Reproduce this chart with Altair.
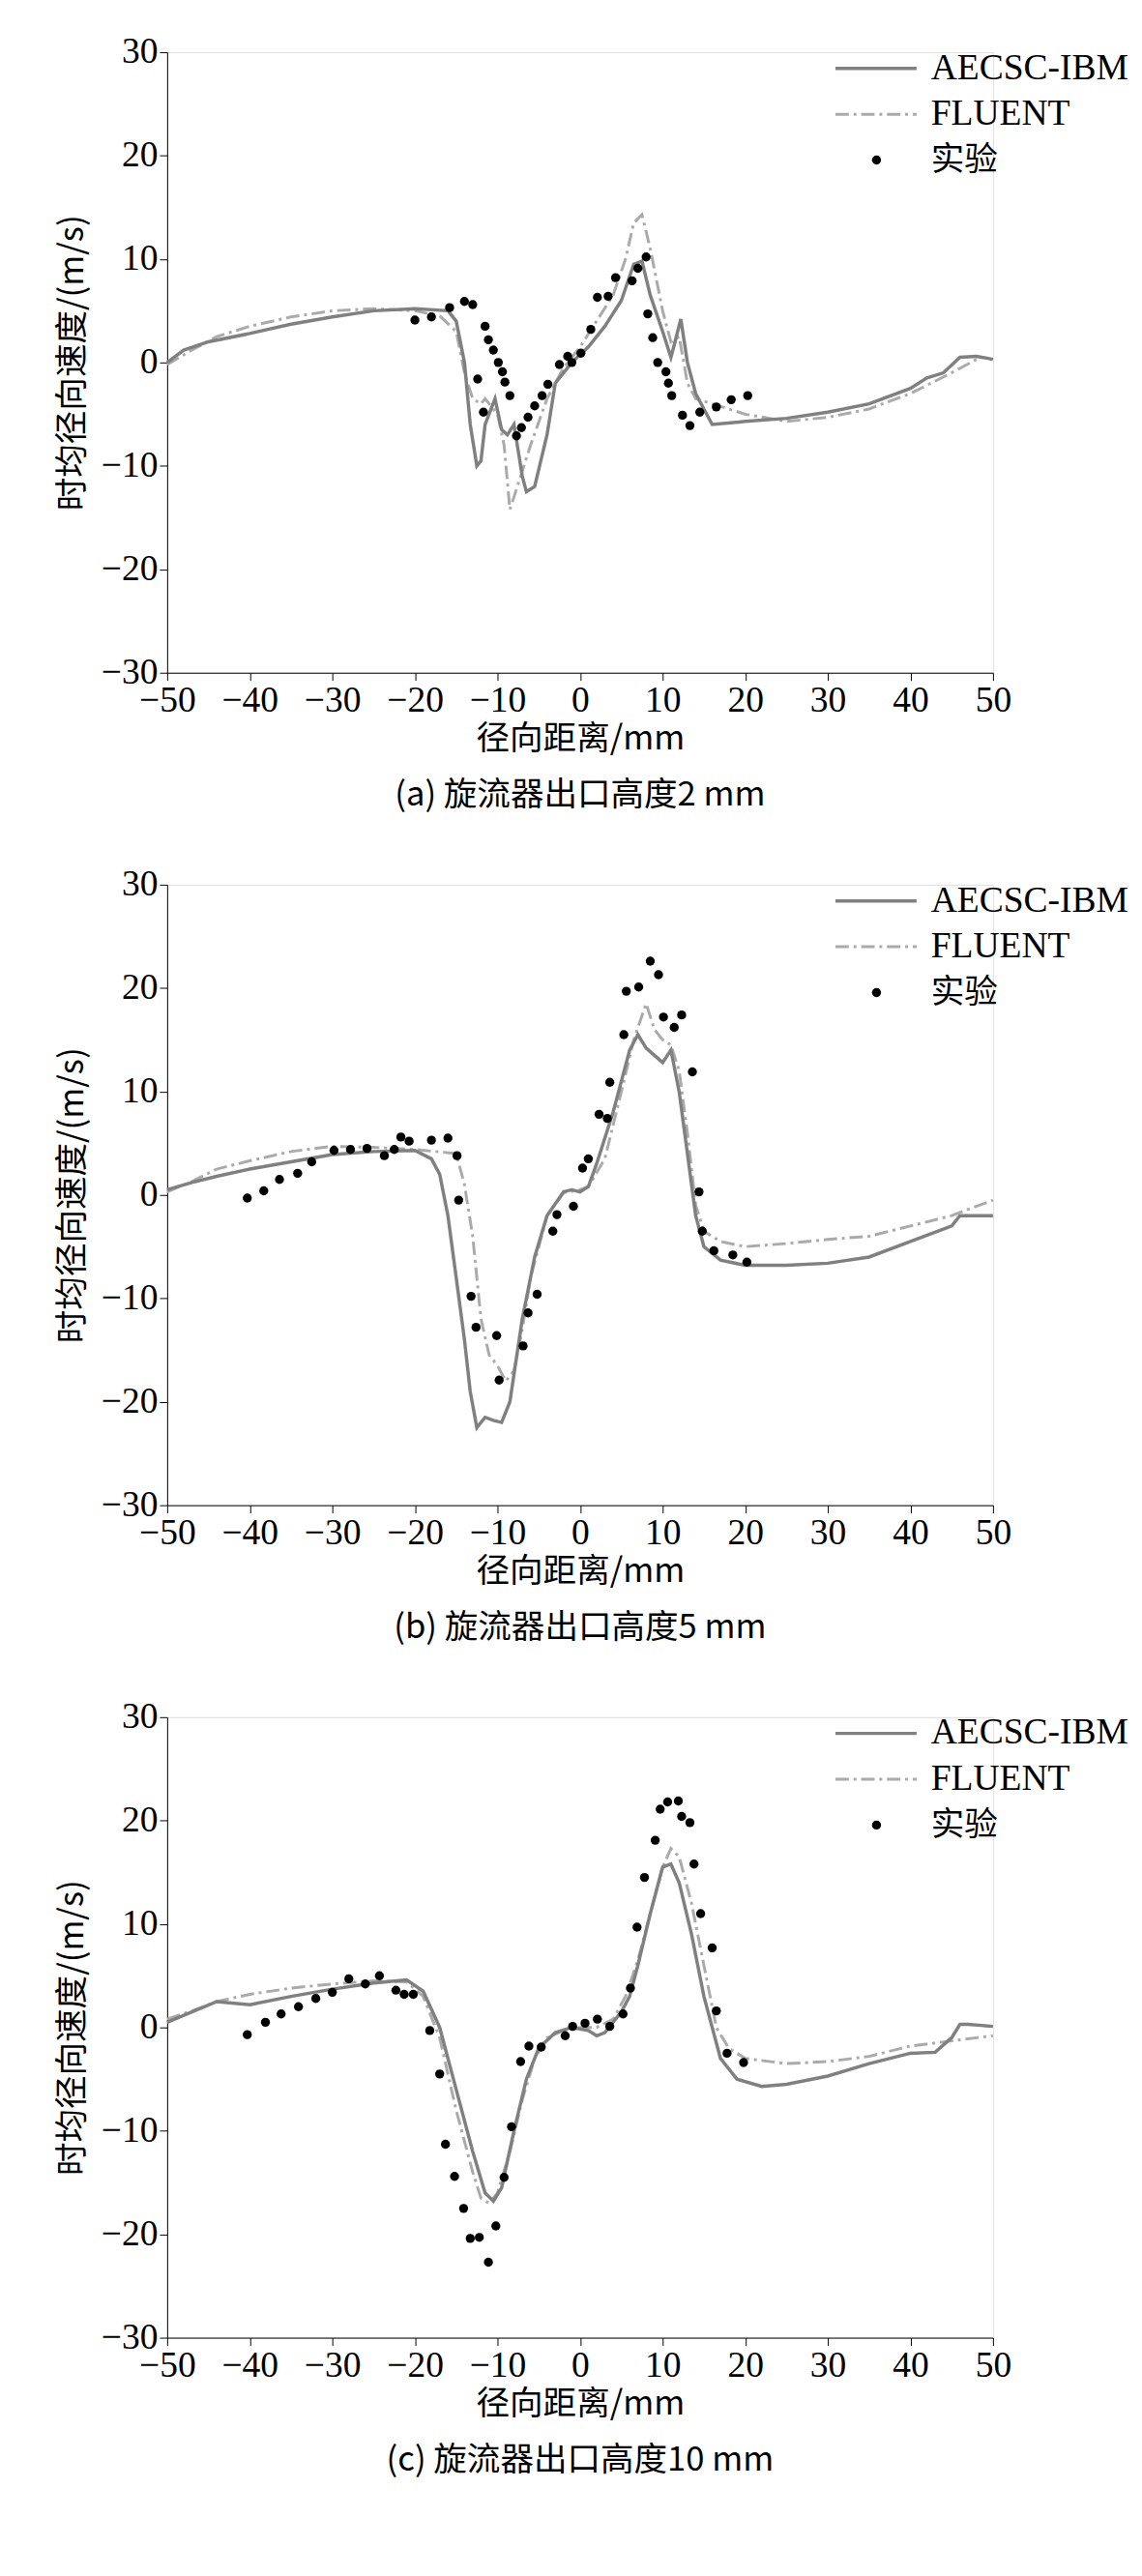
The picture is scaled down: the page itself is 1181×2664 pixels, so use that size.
import altair as alt
import pandas as pd

# ---- panel (a): 2 mm ----
a_ibm_x = [-50,-48,-45,-40,-35,-30,-25,-20,-16,-15,-14,-13.3,-12.5,-12,-11.5,-10.3,-9.5,-8.8,-8,-7,-6.5,-5.5,-4,-3,-1,1,3,5,6.5,7.5,8.5,10,11,11.5,12.2,13,14,16,20,25,30,35,40,42,44,46,48,50]
a_ibm_y = [0,1.2,2,2.8,3.7,4.4,5,5.2,5,4,0,-6,-10,-9.5,-6,-3.5,-6.5,-7,-6,-11,-12.5,-12,-7,-2,0,1.5,3.5,6,9.5,9.8,6.5,3,0.5,2,4.2,0,-3,-6,-5.7,-5.4,-4.8,-4,-2.5,-1.5,-1,0.5,0.6,0.3]
a_flu_x = [-50,-47,-44,-40,-35,-30,-25,-20,-17,-15,-14,-13,-12,-11.5,-10,-9.2,-8.5,-8,-6,-4,-2,0,2,4,5.5,6.5,7.5,8.5,10,11,12,13,14,16,20,25,30,35,40,45,48]
a_flu_y = [-0.2,1.2,2.5,3.5,4.4,5,5.2,5,4.5,3,-1,-3.5,-4,-3.5,-5,-8,-14.2,-13,-8,-3.5,-0.5,1.5,4,6.5,10,13.5,14.3,11,5,2,2.5,-2,-3.5,-4,-5,-5.7,-5.3,-4.5,-3,-1,0.3]
a_exp_x = [-20,-18,-15.8,-14,-13,-12.4,-11.7,-11.5,-11.1,-10.5,-9.9,-9.4,-9.1,-8.5,-7.7,-7.1,-6.3,-5.5,-4.6,-3.9,-2.5,-1.5,-1,0.1,1.3,2.1,3.4,4.3,6.3,7,8,8.2,8.8,9.4,10.4,10.7,11.1,12.4,13.3,14.5,16.5,18.3,20.3]
a_exp_y = [4.1,4.4,5.3,5.9,5.6,-1.6,-4.8,3.5,2.2,1.2,0,-0.9,-1.9,-3.2,-7.1,-6.3,-5.3,-4.2,-3.2,-2.1,-0.2,0.6,0,0.9,3.2,6.3,6.4,8.2,7.9,9.1,10.2,4.7,2.4,0,-0.9,-2,-3.2,-5.1,-6.1,-4.8,-4.3,-3.6,-3.2]

# ---- panel (b): 5 mm ----
b_ibm_x = [-50,-47,-44,-40,-35,-30,-25,-20,-18,-17,-16,-15,-14,-13.3,-12.5,-11.5,-10.5,-9.5,-8.5,-7,-5.5,-4,-2,-1,0,1,2,3,4,5,6,7,8,9,10,11,12,13,14,15,17,20,25,30,35,40,45,46,50]
b_ibm_y = [0.5,1.2,1.8,2.5,3.2,3.9,4.2,4.3,3.5,2,-2,-8,-14,-19,-22.5,-21.5,-21.8,-22,-20,-12,-6,-2,0.3,0.5,0.3,0.8,3,5.5,8,11,14,15.5,14.2,13.5,12.8,14,10,4,-2,-5,-6.3,-6.8,-6.8,-6.6,-6,-4.5,-3,-2,-2]
b_flu_x = [-50,-47,-44,-40,-35,-30,-25,-20,-15,-14,-13,-12,-11,-10,-9,-8,-7,-6,-4,-2,0,1,3,5,6.5,8,9,10,11,12,13,14,15,17,20,25,30,35,40,45,50]
b_flu_y = [0.3,1.3,2.5,3.3,4.2,4.7,4.6,4.4,4,1,-4,-12,-15.5,-16.5,-18,-17,-13,-8,-2,0.2,0.5,0.8,3.5,10,15,18.5,16,15,14.5,12,6,-1,-3.5,-4.5,-5,-4.7,-4.3,-4,-3,-2,-0.5]
b_exp_x = [-40.3,-38.3,-36.4,-34.2,-32.5,-29.8,-27.8,-25.8,-23.7,-22.5,-21.7,-20.7,-18,-16,-14.9,-14.7,-13.2,-12.6,-10.1,-9.8,-6.9,-6.3,-5.2,-3.3,-2.8,-0.8,0.3,1,2.3,3.3,3.6,5.3,5.6,7.1,8.5,9.5,10.1,11.4,12.3,13.6,14.4,14.8,16.2,18.5,20.2]
b_exp_y = [-0.3,0.4,1.5,2.1,3.2,4.3,4.4,4.5,3.8,4.4,5.6,5.2,5.3,5.5,3.8,-0.5,-9.8,-12.8,-13.6,-17.9,-14.6,-11.4,-9.6,-3.5,-1.9,-1.1,2.6,3.5,7.8,7.4,10.9,15.5,19.7,20.1,22.6,21.3,17.2,16.2,17.4,11.9,0.3,-3.5,-5.4,-5.8,-6.5]

# ---- panel (c): 10 mm ----
c_ibm_x = [-50,-47,-44,-40,-35,-30,-25,-21,-19,-17,-15,-13,-11.5,-10.5,-9.5,-8,-6.5,-5,-3,-1,1,2,3,5,6,7,8.5,10,11,12,13.5,15,17,19,22,25,30,35,40,43,45,46,47,50]
c_ibm_y = [0.5,1.5,2.5,2.2,3,3.7,4.3,4.6,3.5,0,-6,-12,-16,-16.8,-15.5,-10,-5,-2,-0.5,0,-0.3,-0.8,-0.5,1.5,3,6,11,15.5,15.8,14,9,3,-3,-5,-5.7,-5.5,-4.7,-3.5,-2.5,-2.4,-1,0.3,0.3,0.1]
c_flu_x = [-50,-47,-44,-40,-35,-30,-25,-21,-19,-17,-15,-13,-12,-11,-10,-8.5,-7,-5.5,-4,-2,0,2,4,5.5,7,8.5,10,11,12,13.5,15,16.5,18,20,25,30,35,40,45,50]
c_flu_y = [0.8,1.6,2.5,3.2,3.8,4.2,4.5,4.4,3,-1,-8,-14,-16.5,-17,-16,-12,-7,-3,-1,-0.3,0,0,0.8,3,6.5,11,15.5,17.3,16.5,12,6,0,-2,-3,-3.5,-3.3,-2.8,-1.8,-1.3,-0.8]
c_exp_x = [-40.3,-38.1,-36.2,-34.1,-32,-30,-28,-26,-24.3,-22.3,-21.3,-20.2,-18.2,-17,-16.3,-15.2,-14.1,-13.3,-12.2,-11.1,-10.2,-9.2,-8.3,-7.2,-6.2,-4.7,-1.8,-0.9,0.6,2.1,3.6,5.2,6.1,6.9,7.8,9.1,9.7,10.6,11.9,12.3,13.3,13.8,14.6,16,16.5,17.8,19.8]
c_exp_y = [-0.7,0.5,1.3,2,2.8,3.4,4.7,4.2,5,3.6,3.2,3.2,-0.3,-4.5,-11.3,-14.4,-17.5,-20.4,-20.3,-22.7,-19.2,-14.5,-9.6,-3.3,-1.8,-1.9,-0.8,0.1,0.4,0.8,0.1,1.3,3.8,9.7,14.5,18.1,21.1,21.8,21.9,20.4,19.8,15.8,11,7.7,1.6,-2.5,-3.4]

captions = ["(a) 旋流器出口高度2 mm", "(b) 旋流器出口高度5 mm", "(c) 旋流器出口高度10 mm"]
legend_labels = ["AECSC-IBM", "FLUENT", "实验"]

FONT = "Liberation Serif"
CJK = "Noto Sans CJK SC"
W, H = 865, 650
FS = 38

xs = alt.Scale(domain=[-50, 50], nice=False)
ys = alt.Scale(domain=[-30, 30], nice=False)


def panel(ix, iy, fx, fy, ex, ey, caption):
    x_ax = alt.Axis(values=list(range(-50, 51, 10)), title="径向距离/mm", titleFont=CJK,
                    titleFontWeight="normal", titleFontSize=35, labelFont=FONT, labelFontSize=FS,
                    labelColor="black", titleColor="black", domainColor="black", tickColor="black",
                    tickSize=8, grid=False, labelPadding=2, titlePadding=4,
                    labelFlush=False, labelOverlap=False)
    y_ax = alt.Axis(values=list(range(-30, 31, 10)), title="时均径向速度/(m/s)", titleFont=CJK,
                    titleFontWeight="normal", titleFontSize=35, labelFont=FONT, labelFontSize=FS,
                    labelColor="black", titleColor="black", domainColor="black", tickColor="black",
                    tickSize=8, grid=False, titlePadding=12, labelFlush=False, labelOverlap=False)
    ibm = pd.DataFrame({"x": ix, "y": iy})
    flu = pd.DataFrame({"x": fx, "y": fy})
    exp = pd.DataFrame({"x": ex, "y": ey})
    l1 = alt.Chart(ibm).mark_line(color="#808080", strokeWidth=3.5).encode(
        x=alt.X("x:Q", scale=xs, axis=x_ax), y=alt.Y("y:Q", scale=ys, axis=y_ax))
    l2 = alt.Chart(flu).mark_line(color="#aaaaaa", strokeWidth=3, strokeDash=[14, 5, 3, 5]).encode(
        x=alt.X("x:Q", scale=xs), y=alt.Y("y:Q", scale=ys))
    pts = alt.Chart(exp).mark_circle(color="black", size=90, opacity=1).encode(
        x=alt.X("x:Q", scale=xs), y=alt.Y("y:Q", scale=ys))
    # legend
    lg1 = alt.Chart(pd.DataFrame({"a": [0]})).mark_rule(color="#808080", strokeWidth=3.5).encode(
        x=alt.value(700), x2=alt.value(785), y=alt.value(17))
    lg2 = alt.Chart(pd.DataFrame({"a": [0]})).mark_rule(color="#aaaaaa", strokeWidth=3, strokeDash=[14, 5, 3, 5]).encode(
        x=alt.value(700), x2=alt.value(785), y=alt.value(65))
    lg3 = alt.Chart(pd.DataFrame({"a": [0]})).mark_circle(color="black", size=90, opacity=1).encode(
        x=alt.value(743), y=alt.value(113))
    t1 = alt.Chart(pd.DataFrame({"t": [legend_labels[0]]})).mark_text(
        font=FONT, fontSize=FS, align="left", baseline="middle", color="black").encode(
        x=alt.value(800), y=alt.value(17), text="t:N")
    t2 = alt.Chart(pd.DataFrame({"t": [legend_labels[1]]})).mark_text(
        font=FONT, fontSize=FS, align="left", baseline="middle", color="black").encode(
        x=alt.value(800), y=alt.value(65), text="t:N")
    t3 = alt.Chart(pd.DataFrame({"t": [legend_labels[2]]})).mark_text(
        font=CJK, fontSize=35, align="left", baseline="middle", color="black").encode(
        x=alt.value(800), y=alt.value(113), text="t:N")
    return alt.layer(l2, l1, pts, lg1, lg2, lg3, t1, t2, t3).properties(
        width=W, height=H,
        title=alt.TitleParams(caption, orient="bottom", font=CJK, fontSize=35,
                              fontWeight="normal", color="black", offset=24, anchor="middle"))


chart = alt.vconcat(
    panel(a_ibm_x, a_ibm_y, a_flu_x, a_flu_y, a_exp_x, a_exp_y, captions[0]),
    panel(b_ibm_x, b_ibm_y, b_flu_x, b_flu_y, b_exp_x, b_exp_y, captions[1]),
    panel(c_ibm_x, c_ibm_y, c_flu_x, c_flu_y, c_exp_x, c_exp_y, captions[2]),
    spacing=55,
).configure_view(stroke=None).configure(background="white", padding={"left": 50, "top": 10, "right": 5, "bottom": 5})

chart.save("out.html", embed_options={"renderer": "svg", "actions": False})
